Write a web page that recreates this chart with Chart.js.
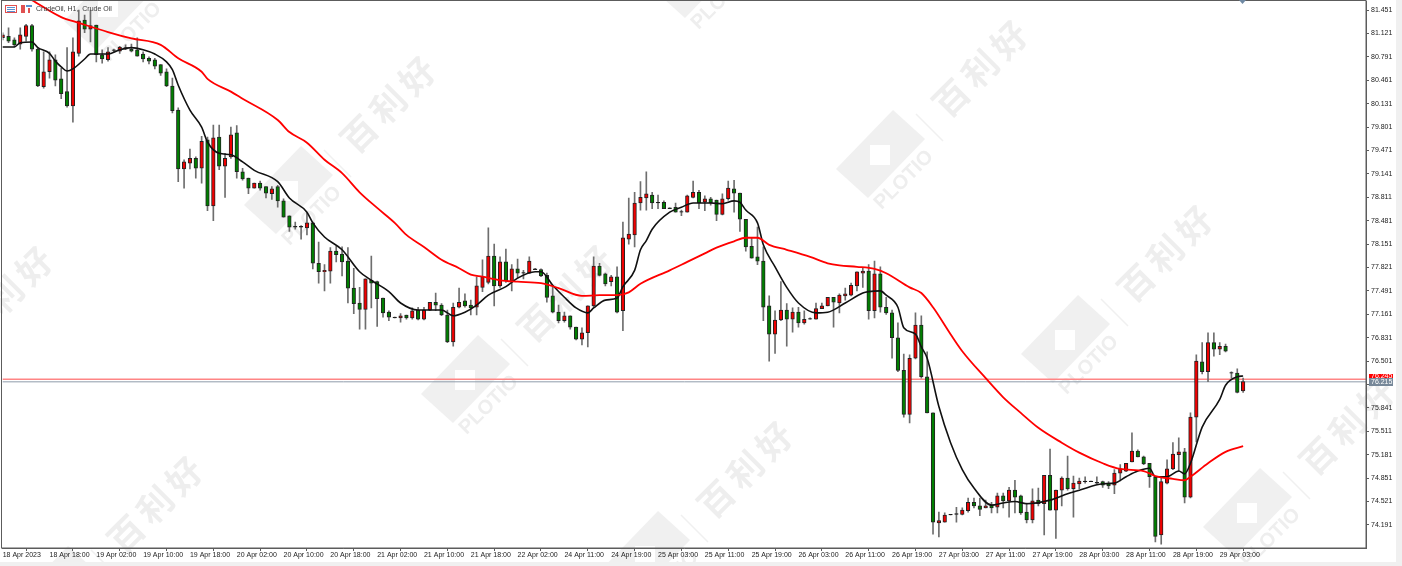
<!DOCTYPE html>
<html>
<head>
  <title>CrudeOil, H1, Crude Oil</title>
  <script src="https://cdn.jsdelivr.net/npm/chart.js@4.4.2/dist/chart.umd.min.js"></script>
  <style>
    html, body { margin: 0; padding: 0; background: #fff; overflow: hidden; }
    canvas { display: block; }
  </style>
</head>
<body>
<canvas id="priceChart" width="1402" height="566"></canvas>
<script>
const tickLabels = ["18 Apr 2023","18 Apr 18:00","19 Apr 02:00","19 Apr 10:00","19 Apr 18:00","20 Apr 02:00","20 Apr 10:00","20 Apr 18:00","21 Apr 02:00","21 Apr 10:00","21 Apr 18:00","22 Apr 02:00","24 Apr 11:00","24 Apr 19:00","25 Apr 03:00","25 Apr 11:00","25 Apr 19:00","26 Apr 03:00","26 Apr 11:00","26 Apr 19:00","27 Apr 03:00","27 Apr 11:00","27 Apr 19:00","28 Apr 03:00","28 Apr 11:00","28 Apr 19:00","29 Apr 03:00"];
const priceTicks = [81.451,81.121,80.791,80.461,80.131,79.801,79.471,79.141,78.811,78.481,78.151,77.821,77.491,77.161,76.831,76.501,76.171,75.841,75.511,75.181,74.851,74.521,74.191];

const opens = [
81.06,81.08,81.03,80.97,81.08,81.23,80.90,80.37,80.58,80.75,
80.48,80.30,80.10,80.84,81.31,81.18,81.24,80.82,80.75,80.89,
80.87,80.92,80.90,80.89,80.83,80.77,80.75,80.68,80.58,80.38,
80.04,79.21,79.29,79.36,79.22,79.62,78.69,79.66,79.25,79.38,
79.72,79.17,79.08,78.94,79.01,78.96,78.86,78.96,78.76,78.55,
78.40,78.40,78.38,78.45,77.88,77.76,77.77,78.05,78.01,77.91,
77.53,77.32,77.23,77.64,77.62,77.39,77.19,77.12,77.11,77.15,
77.11,77.22,77.09,77.22,77.33,77.29,77.15,76.77,77.26,77.35,
77.29,77.26,77.54,77.61,77.98,77.56,77.90,77.63,77.80,77.75,
77.74,77.80,77.79,77.71,77.42,77.19,77.07,77.14,76.98,76.81,
76.90,77.28,77.84,77.73,77.62,77.69,77.21,78.22,78.28,78.73,
78.80,78.84,78.73,78.74,78.66,78.67,78.61,78.60,78.81,78.88,
78.74,78.79,78.77,78.57,78.79,78.93,78.87,78.50,78.12,77.97,
77.91,77.28,76.88,77.08,77.22,77.09,77.19,77.04,77.10,77.09,
77.24,77.28,77.40,77.32,77.42,77.43,77.56,77.74,77.77,77.21,
77.73,77.26,77.18,76.83,76.37,75.75,76.54,77.01,76.28,75.77,
74.22,74.23,74.34,74.35,74.34,74.39,74.51,74.46,74.43,74.47,
74.44,74.60,74.53,74.68,74.60,74.37,74.26,74.54,74.49,74.89,
74.40,74.68,74.85,74.70,74.77,74.81,74.81,74.79,74.80,74.78,
74.75,74.92,74.95,75.08,75.23,75.15,75.06,74.87,74.05,74.78,
74.98,75.18,75.22,74.58,75.71,76.49,76.35,76.76,76.67,76.71,
76.34,76.33,76.08];
const closes = [
81.10,81.01,80.96,81.10,81.23,80.90,80.38,80.58,80.75,80.46,
80.27,80.10,80.86,81.30,81.18,81.23,80.82,80.76,80.86,80.88,
80.93,80.90,80.87,80.80,80.76,80.73,80.66,80.56,80.38,80.03,
79.21,79.31,79.36,79.22,79.60,78.69,79.65,79.25,79.36,79.69,
79.17,79.07,78.94,79.01,78.94,78.87,78.93,78.76,78.53,78.39,
78.39,78.39,78.45,77.88,77.76,77.78,78.05,78.00,77.90,77.53,
77.31,77.23,77.66,77.60,77.38,77.18,77.12,77.11,77.14,77.11,
77.21,77.09,77.22,77.33,77.29,77.15,76.77,77.26,77.33,77.28,
77.25,77.56,77.69,77.98,77.56,77.90,77.63,77.80,77.74,77.74,
77.91,77.79,77.70,77.40,77.19,77.07,77.14,76.98,76.81,76.90,
77.28,77.84,77.71,77.59,77.69,77.19,78.24,78.29,78.73,78.81,
78.86,78.73,78.74,78.65,78.65,78.60,78.60,78.83,78.88,78.73,
78.79,78.73,78.57,78.79,78.94,78.87,78.50,78.11,77.95,77.91,
77.26,76.88,77.08,77.22,77.09,77.19,77.04,77.09,77.09,77.24,
77.28,77.40,77.33,77.43,77.45,77.57,77.76,77.77,77.21,77.73,
77.26,77.18,76.83,76.37,75.75,76.54,77.01,76.28,75.77,74.23,
74.25,74.33,74.33,74.34,74.40,74.51,74.46,74.41,74.46,74.43,
74.60,74.53,74.68,74.58,74.36,74.26,74.53,74.49,74.89,74.40,
74.68,74.85,74.70,74.78,74.81,74.80,74.80,74.78,74.75,74.74,
74.92,74.98,75.06,75.23,75.15,75.05,74.87,74.03,74.80,74.98,
75.19,75.22,74.58,75.71,76.50,76.35,76.76,76.67,76.71,76.64,
76.33,76.06,76.21];
const highs = [
81.13,81.20,81.06,81.20,81.25,81.25,80.92,80.86,80.86,80.82,
80.63,80.92,81.06,81.45,81.38,81.45,81.24,80.89,80.92,80.90,
80.94,80.96,80.97,81.06,80.86,80.79,80.77,80.68,80.62,80.49,
80.07,79.34,79.49,79.38,79.67,79.66,79.83,79.83,79.43,79.80,
79.82,79.22,79.08,79.01,79.04,78.96,78.96,78.98,78.79,78.55,
78.46,78.41,78.59,78.46,78.18,77.86,78.10,78.12,78.11,78.10,
77.81,77.54,77.66,77.98,77.63,77.39,77.21,77.12,77.17,77.15,
77.25,77.26,77.26,77.33,77.46,77.31,77.22,77.32,77.53,77.45,
77.36,77.69,77.93,78.38,78.15,77.97,78.08,77.86,77.94,77.78,
77.97,77.81,77.80,77.74,77.54,77.29,77.19,77.14,76.98,76.97,
77.28,77.97,77.88,77.74,77.71,77.83,78.46,78.80,78.88,79.03,
79.17,78.88,78.84,78.76,78.66,78.73,78.63,78.84,79.04,78.91,
78.83,78.81,78.77,78.86,79.04,79.05,78.87,78.50,78.24,78.39,
78.11,77.42,77.21,77.62,77.31,77.25,77.26,77.21,77.11,77.32,
77.32,77.40,77.40,77.45,77.53,77.60,77.76,77.81,77.86,77.91,
77.83,77.40,77.22,77.04,76.60,76.59,77.18,77.14,76.63,75.77,
74.37,74.36,74.34,74.44,74.43,74.57,74.57,74.57,74.54,74.51,
74.64,74.64,74.72,74.82,74.61,74.50,74.70,74.71,74.89,75.26,
74.68,74.87,75.16,74.88,74.85,74.87,74.81,74.87,74.81,74.80,
74.97,75.04,75.06,75.49,75.25,75.16,75.06,74.87,74.87,75.11,
75.35,75.42,75.27,75.77,76.59,76.76,76.90,76.90,76.76,76.74,
76.35,76.39,76.26];
const lows = [
81.03,80.99,80.93,80.90,81.01,80.87,80.37,80.35,80.49,80.38,
80.20,80.08,79.87,80.80,81.13,81.00,80.72,80.70,80.73,80.86,
80.84,80.89,80.86,80.80,80.72,80.69,80.62,80.53,80.37,80.00,
79.03,78.94,79.21,79.08,79.01,78.62,78.48,79.20,78.81,79.36,
79.08,79.05,78.86,78.94,78.91,78.80,78.78,78.67,78.53,78.33,
78.36,78.22,78.28,77.80,77.60,77.49,77.60,77.90,77.70,77.32,
77.17,76.95,76.95,77.25,76.99,77.12,77.07,77.11,77.05,77.09,
77.09,77.08,77.08,77.21,77.21,77.14,76.76,76.71,77.25,77.26,
77.15,77.15,77.48,77.59,77.28,77.54,77.61,77.49,77.67,77.66,
77.74,77.79,77.69,77.33,77.18,77.04,77.05,76.95,76.80,76.73,
76.70,77.26,77.70,77.56,77.56,77.18,76.93,78.15,78.11,78.63,
78.63,78.65,78.65,78.65,78.65,78.60,78.55,78.60,78.80,78.65,
78.62,78.70,78.48,78.56,78.77,78.60,78.33,78.05,77.95,77.86,
77.07,76.50,76.61,77.07,76.71,76.91,76.98,77.02,77.09,77.09,
77.24,77.28,76.98,77.18,77.36,77.42,77.49,77.54,77.09,77.11,
77.19,77.16,76.54,76.35,75.71,75.63,76.53,76.26,75.77,74.06,
74.02,74.23,74.33,74.23,74.33,74.37,74.43,74.32,74.43,74.36,
74.36,74.43,74.30,74.36,74.34,74.22,74.22,74.46,74.05,74.40,
74.00,74.46,74.68,74.30,74.70,74.78,74.80,74.77,74.72,74.70,
74.63,74.81,74.94,75.08,75.15,75.04,74.72,73.95,73.92,74.77,
74.97,74.95,74.50,74.57,75.36,76.32,76.21,76.57,76.59,76.63,
76.26,76.05,76.06];

const fastIdx = [0,2,3,5,6,8,9,10,11,12,14,15,17,18,20,22,24,26,28,29,30,32,34,35,37,39,41,43,47,49,52,53,55,58,61,63,66,68,71,75,77,79,81,83,86,88,91,92,94,96,98,100,101,103,105,106,108,109,110,111,114,116,118,121,123,125,126,127,129,130,132,134,136,139,141,144,147,148,150,151,153,154,156,157,158,160,162,164,166,169,171,173,175,179,182,184,188,190,192,194,196,197,199,201,202,203,205,208,209,211,212];
const fastVal = [80.93,80.93,80.99,81.00,80.92,80.84,80.73,80.65,80.59,80.62,80.76,80.83,80.83,80.83,80.89,80.92,80.89,80.83,80.72,80.61,80.39,80.04,79.80,79.59,79.43,79.41,79.31,79.19,79.03,78.80,78.60,78.45,78.25,78.07,77.76,77.64,77.48,77.32,77.22,77.22,77.14,77.19,77.29,77.43,77.55,77.67,77.76,77.76,77.57,77.40,77.25,77.18,77.25,77.36,77.39,77.55,77.78,78.07,78.20,78.36,78.60,78.67,78.73,78.73,78.72,78.76,78.74,78.63,78.45,78.14,77.83,77.54,77.32,77.18,77.19,77.32,77.46,77.48,77.49,77.43,77.26,76.97,76.88,76.70,76.54,75.86,75.35,74.97,74.71,74.47,74.50,74.52,74.49,74.54,74.63,74.68,74.77,74.78,74.87,74.95,74.99,74.87,74.87,74.95,74.91,75.06,75.57,75.96,76.16,76.28,76.29];
const slowIdx = [5,10,13,18,22,27,30,34,35,39,41,47,49,52,55,58,61,64,67,69,72,75,78,80,82,85,88,92,95,99,102,105,107,109,114,117,120,122,125,127,129,131,134,138,141,143,146,149,151,155,157,159,162,164,168,171,174,177,181,184,188,191,195,197,200,202,203,206,209,212];
const slowVal = [81.59,81.35,81.27,81.14,81.05,80.96,80.77,80.58,80.48,80.30,80.20,79.90,79.73,79.58,79.34,79.15,78.88,78.66,78.45,78.28,78.11,77.93,77.81,77.72,77.69,77.64,77.62,77.60,77.53,77.42,77.43,77.43,77.47,77.59,77.78,77.90,78.02,78.10,78.19,78.24,78.24,78.14,78.07,77.97,77.88,77.85,77.83,77.80,77.74,77.54,77.46,77.26,76.88,76.64,76.26,75.99,75.77,75.56,75.35,75.21,75.06,74.98,74.95,74.88,74.84,74.82,74.87,75.06,75.22,75.30];

const askPrice = 76.245;
const bidPrice = 76.215;
const labelEvery = 8;
const slotCount = 234; // empty slots on the right, the chart is shifted

// watermark logo centres
const marks = [[108,12],[288,196],[465,385],[645,561],[697,-20],[880,160],[1065,345],[1247,518],[-95,386],[55,596]];

const slotLabels = [];
for (let i = 0; i < slotCount; i++) {
  slotLabels.push(i % labelEvery === 0 && tickLabels[i / labelEvery] ? tickLabels[i / labelEvery] : '');
}

function sparseLine(idx, val) {
  const line = slotLabels.map(() => null);
  idx.forEach((n, k) => { line[n] = val[k]; });
  return line;
}

function drawWatermark(ctx, cx, cy) {
  ctx.save();
  ctx.translate(cx, cy);
  ctx.fillStyle = '#f0f0f0';
  ctx.beginPath();
  ctx.moveTo(13, -50); ctx.lineTo(45, -21); ctx.lineTo(-12, 38); ctx.lineTo(-44, 9);
  ctx.closePath();
  ctx.fill();
  ctx.fillStyle = '#fff';
  ctx.fillRect(-10, -15, 20, 20);
  ctx.strokeStyle = '#f0f0f0';
  ctx.lineWidth = 1.5;
  ctx.beginPath();
  ctx.moveTo(36, -46); ctx.lineTo(63, -19);
  ctx.stroke();
  ctx.fillStyle = '#eeeeee';
  ctx.textAlign = 'center';
  ctx.textBaseline = 'middle';
  ctx.save();
  ctx.translate(24, 20);
  ctx.rotate(-Math.PI / 4);
  ctx.font = 'bold 20px "Liberation Sans"';
  ctx.fillText('PLOTIO', 0, 0);
  ctx.restore();
  ctx.font = 'bold 35px "Noto Sans CJK SC"';
  ['百', '利', '好'].forEach((ch, k) => {
    ctx.save();
    ctx.translate(100 + (k - 1) * 29, -91 - (k - 1) * 29);
    ctx.rotate(-Math.PI / 4);
    ctx.fillText(ch, 0, 0);
    ctx.restore();
  });
  ctx.restore();
}

function priceBox(ctx, y0, y1, color, text) {
  ctx.fillStyle = color;
  ctx.fillRect(1369, y0, 24, y1 - y0);
  ctx.fillStyle = '#fff';
  ctx.font = '7px "Liberation Sans"';
  ctx.textAlign = 'left';
  ctx.textBaseline = 'middle';
  ctx.fillText(text, 1371, (y0 + y1) / 2);
}

const terminalChrome = {
  id: 'terminalChrome',
  beforeDraw(chart) {
    const ctx = chart.ctx;
    ctx.save();
    ctx.fillStyle = '#fff';
    ctx.fillRect(0, 0, 1402, 566);
    marks.forEach(m => drawWatermark(ctx, m[0], m[1]));
    ctx.fillStyle = '#f0f0f0';
    ctx.fillRect(1396, 0, 6, 566);
    ctx.fillRect(0, 562, 1402, 4);
    ctx.restore();
  },
  beforeDatasetsDraw(chart) {
    const ctx = chart.ctx, y = chart.scales.y, a = chart.chartArea;
    ctx.save();
    ctx.lineWidth = 1.4;
    ctx.strokeStyle = '#ff8585';
    ctx.beginPath();
    ctx.moveTo(a.left, y.getPixelForValue(askPrice));
    ctx.lineTo(a.right, y.getPixelForValue(askPrice));
    ctx.stroke();
    ctx.lineWidth = 1;
    ctx.strokeStyle = '#8f9cab';
    ctx.beginPath();
    ctx.moveTo(a.left, y.getPixelForValue(bidPrice) + 0.5);
    ctx.lineTo(a.right, y.getPixelForValue(bidPrice) + 0.5);
    ctx.stroke();
    ctx.restore();
  },
  afterDraw(chart) {
    const ctx = chart.ctx, a = chart.chartArea;
    ctx.save();
    // frame
    ctx.strokeStyle = '#5c5c5c';
    ctx.lineWidth = 1;
    ctx.strokeRect(1.5, 0.5, a.right - 1.5, a.bottom - 0.5);
    // chart shift marker
    ctx.fillStyle = '#6f89a3';
    ctx.beginPath();
    ctx.moveTo(1239, 0); ctx.lineTo(1246, 0); ctx.lineTo(1242.5, 4);
    ctx.closePath();
    ctx.fill();
    // price labels
    priceBox(ctx, 374, 379, '#ff0000', askPrice.toFixed(3));
    priceBox(ctx, 378, 386, '#778899', bidPrice.toFixed(3));
    // header icons and text
    ctx.strokeStyle = '#e05050';
    ctx.strokeRect(5.5, 5.5, 11, 7);
    ctx.fillStyle = '#5a8fd0';
    ctx.fillRect(7, 7, 8, 1);
    ctx.fillRect(7, 9, 8, 1);
    ctx.fillRect(7, 11, 8, 1);
    ctx.fillStyle = '#e05050';
    ctx.fillRect(21, 5, 4, 8);
    ctx.fillRect(28, 8, 2, 5);
    ctx.fillStyle = '#5a8fd0';
    ctx.fillRect(26, 5, 6, 2);
    ctx.fillStyle = '#3a3a3a';
    ctx.font = '7px "Liberation Sans"';
    ctx.textAlign = 'left';
    ctx.textBaseline = 'middle';
    ctx.fillText('CrudeOil, H1,  Crude Oil', 36, 9.5);
    ctx.restore();
  }
};

const bodyColor = (o, c) => Math.abs(o - c) < 0.015 ? '#111' : (c > o ? '#f00000' : '#007f00');

new Chart(document.getElementById('priceChart').getContext('2d'), {
  type: 'bar',
  plugins: [terminalChrome],
  data: {
    labels: slotLabels,
    datasets: [
      {
        label: 'High-Low',
        data: lows.map((l, i) => [l, highs[i]]),
        backgroundColor: '#6e6e6e',
        barThickness: 1,
        grouped: false,
        order: 3
      },
      {
        label: 'Open-Close',
        data: opens.map((o, i) => [o, closes[i]]),
        backgroundColor: opens.map((o, i) => bodyColor(o, closes[i])),
        borderColor: '#222',
        borderWidth: 1,
        borderSkipped: false,
        barThickness: 3.6,
        grouped: false,
        order: 2
      },
      {
        type: 'line',
        label: 'MA fast',
        data: sparseLine(fastIdx, fastVal),
        borderColor: '#111',
        borderWidth: 1.6,
        pointRadius: 0,
        spanGaps: true,
        cubicInterpolationMode: 'monotone',
        order: 1
      },
      {
        type: 'line',
        label: 'MA slow',
        data: sparseLine(slowIdx, slowVal),
        borderColor: '#ff0000',
        borderWidth: 1.8,
        pointRadius: 0,
        spanGaps: true,
        cubicInterpolationMode: 'monotone',
        order: 0
      }
    ]
  },
  options: {
    responsive: false,
    animation: false,
    layout: { padding: { left: 2.7, top: 1, right: 6, bottom: 6 } },
    plugins: { legend: { display: false }, title: { display: false } },
    scales: {
      x: {
        offset: false,
        border: { color: '#5c5c5c' },
        grid: { drawOnChartArea: false, tickLength: 3, color: '#5c5c5c' },
        ticks: { autoSkip: false, maxRotation: 0, align: 'start', padding: 0, color: '#222', font: { family: 'Liberation Sans', size: 7 } },
        afterBuildTicks: s => { s.ticks = s.ticks.filter(t => slotLabels[t.value] !== ''); },
        afterFit: s => { s.height = 12; s.paddingLeft = 0; s.paddingRight = 0; }
      },
      y: {
        position: 'right',
        min: 73.865,
        max: 81.578,
        border: { color: '#5c5c5c' },
        grid: { drawOnChartArea: false, tickLength: 3, color: '#5c5c5c' },
        ticks: { autoSkip: false, padding: 2, color: '#222', font: { family: 'Liberation Sans', size: 7 }, callback: v => v.toFixed(3) },
        afterBuildTicks: s => { s.ticks = priceTicks.map(v => ({ value: v })); },
        afterFit: s => { s.width = 30; s.paddingTop = 0; s.paddingBottom = 0; }
      }
    }
  }
});
</script>
</body>
</html>
